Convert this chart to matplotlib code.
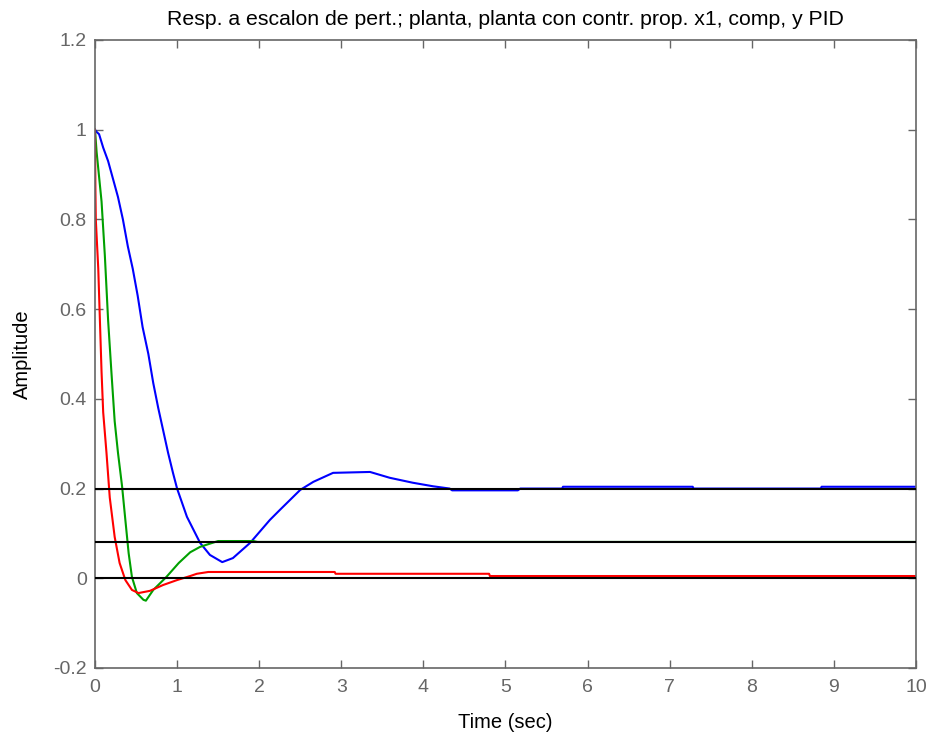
import numpy as np
import matplotlib
matplotlib.use("Agg")
import matplotlib.pyplot as plt

plt.rcParams['font.family'] = ['Liberation Sans', 'DejaVu Sans']

# respuesta de la planta sola
t_planta = [0.0, 0.02, 0.05, 0.10, 0.16, 0.22, 0.28, 0.34, 0.40, 0.46, 0.52, 0.58,
            0.65, 0.71, 0.77, 0.83, 0.89, 0.95, 1.00, 1.12, 1.28, 1.40, 1.55, 1.68,
            1.89, 2.13, 2.25, 2.50, 2.66, 2.90, 3.35, 3.59, 3.87, 4.12, 4.32, 4.35,
            5.15, 5.18, 5.69, 5.70, 7.28, 7.29, 8.84, 8.85, 10.0]
y_planta = [1.0, 0.995, 0.99, 0.96, 0.93, 0.89, 0.85, 0.80, 0.74, 0.69, 0.63, 0.56,
            0.50, 0.435, 0.38, 0.33, 0.28, 0.235, 0.20, 0.137, 0.079, 0.052, 0.036, 0.045,
            0.079, 0.13, 0.152, 0.197, 0.215, 0.235, 0.237, 0.224, 0.213, 0.205, 0.200, 0.196,
            0.196, 0.200, 0.200, 0.204, 0.204, 0.200, 0.200, 0.204, 0.204]

# planta con controlador proporcional x1
t_prop = [0.0, 0.02, 0.08, 0.12, 0.16, 0.20, 0.24, 0.28, 0.33, 0.37, 0.41, 0.45,
          0.51, 0.59, 0.62, 0.71, 0.87, 1.02, 1.16, 1.28, 1.38, 1.50, 1.93, 1.98, 10.0]
y_prop = [1.0, 0.95, 0.84, 0.72, 0.575, 0.46, 0.35, 0.28, 0.205, 0.13, 0.056, 0.003,
          -0.033, -0.048, -0.05, -0.026, 0.003, 0.034, 0.058, 0.070, 0.076, 0.083, 0.083, 0.081, 0.081]

# compensador / PID
t_pid = [0.0, 0.005, 0.01, 0.04, 0.06, 0.08, 0.10, 0.14, 0.18, 0.24, 0.30, 0.37,
         0.45, 0.53, 0.67, 0.83, 1.00, 1.16, 1.24, 1.38, 2.92, 2.93, 4.80, 4.81, 10.0]
y_pid = [1.0, 0.87, 0.80, 0.69, 0.575, 0.46, 0.37, 0.28, 0.18, 0.092, 0.034, -0.004,
         -0.026, -0.033, -0.028, -0.015, -0.004, 0.005, 0.010, 0.014, 0.014, 0.010, 0.010, 0.005, 0.005]

# valores de referencia en estado estacionario
y_ref = [0.2, 0.081, 0.0]

fig = plt.figure(figsize=(9.33, 7.39), dpi=100)
ax = fig.add_axes([0.1018, 0.0961, 0.8800, 0.8498])

ax.plot(t_planta, y_planta, color='#0000ff', lw=1.5)
ax.plot(t_prop, y_prop, color='#00a000', lw=1.5)
ax.plot(t_pid, y_pid, color='#ff0000', lw=1.5)
for y in y_ref:
    ax.axhline(y, color='black', lw=1.5, zorder=3)

ax.set_xlim(0, 10)
ax.set_ylim(-0.2, 1.2)
ax.set_xticks(np.arange(0, 11, 1))
ax.set_yticks([-0.2, 0, 0.2, 0.4, 0.6, 0.8, 1.0, 1.2])
ax.set_yticklabels(['-0.2', '0', '0.2', '0.4', '0.6', '0.8', '1', '1.2'])

grey = '#666666'
for s in ax.spines.values():
    s.set_color(grey)
    s.set_linewidth(1.2)
ax.tick_params(direction='in', length=6, width=1, colors=grey, labelcolor=grey,
               labelsize=14, top=True, right=True)
ax.tick_params(axis='x', pad=8)
ax.tick_params(axis='y', pad=6)

ax.set_title('Resp. a escalon de pert.; planta, planta con contr. prop. x1, comp, y PID',
             fontsize=15.3, pad=11)
ax.set_xlabel('Time (sec)', fontsize=14.5, labelpad=12)
ax.set_ylabel('Amplitude', fontsize=14.5, labelpad=15)

fig.savefig('out.png', dpi=100)
